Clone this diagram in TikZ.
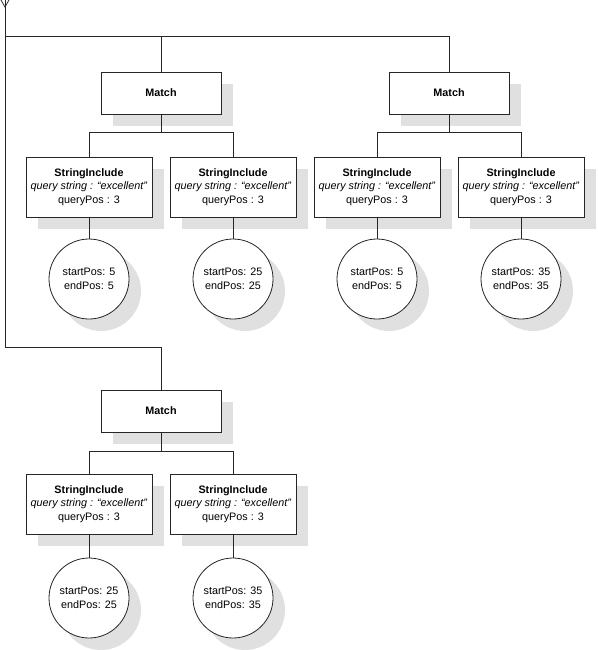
\documentclass[tikz,border=0pt]{standalone}
\usepackage{fontspec}
\setmainfont{Liberation Sans}
\usetikzlibrary{shadows}
\definecolor{shadowgray}{HTML}{E0E0E0}
\begin{document}
\begin{tikzpicture}[x=1pt,y=-1pt,
  line/.style={draw=black!85,line width=0.8pt},
  shadowed/.style={drop shadow={shadow xshift=12pt,shadow yshift=-12pt,fill=shadowgray,opacity=1}},
  matchbox/.style={line,fill=white,shadowed,rectangle,minimum width=120pt,minimum height=42pt,inner sep=0pt,font=\fontsize{10.8}{13.5}\selectfont\bfseries},
  incbox/.style={line,fill=white,shadowed,rectangle,minimum width=126pt,minimum height=60pt,inner sep=0pt,align=center,font=\fontsize{10.8}{13.5}\selectfont},
  posnode/.style={line,fill=white,shadowed,circle,minimum size=80pt,inner sep=0pt,align=center,font=\fontsize{10.8}{13.5}\selectfont},
  conn/.style={line}
]
\useasboundingbox (0,0) rectangle (597,650);

\newcommand{\incl}{\textbf{StringInclude}\\\textit{query string : “excellent”}\\queryPos : 3}

% root
\coordinate (root) at (5,0);
\coordinate (va) at (5,7);
\coordinate (vl) at (1,0);
\coordinate (vr) at (9,0);
\coordinate (jtop) at (5,36);
\coordinate (jbot) at (5,347);

% top-left tree
\node[matchbox] (m1) at (161,93) {Match};
\coordinate (j1) at (161,132);
\node[incbox] (b1) at (89,187) {\incl};
\node[incbox] (b2) at (233,187) {\incl};
\node[posnode] (c1) at (89,279) {startPos: 5\\endPos: 5};
\node[posnode] (c2) at (233,279) {startPos: 25\\endPos: 25};

% top-right tree
\node[matchbox] (m2) at (449,93) {Match};
\coordinate (j2) at (449,132);
\node[incbox] (b3) at (377,187) {\incl};
\node[incbox] (b4) at (521,187) {\incl};
\node[posnode] (c3) at (377,279) {startPos: 5\\endPos: 5};
\node[posnode] (c4) at (521,279) {startPos: 35\\endPos: 35};

% bottom tree
\node[matchbox] (m3) at (161,411) {Match};
\coordinate (j3) at (161,451);
\node[incbox] (b5) at (89,504) {\incl};
\node[incbox] (b6) at (233,504) {\incl};
\node[posnode] (c5) at (89,598) {startPos: 25\\endPos: 25};
\node[posnode] (c6) at (233,598) {startPos: 35\\endPos: 35};

% connectors
\draw[conn] (vl) -- (va) -- (vr);
\draw[conn] (root) -- (jbot) -| (m3);
\draw[conn] (jtop) -| (m1);
\draw[conn] (jtop) -| (m2);

\draw[conn] (m1) -- (j1);
\draw[conn] (j1) -| (b1);
\draw[conn] (j1) -| (b2);
\draw[conn] (b1) -- (c1);
\draw[conn] (b2) -- (c2);

\draw[conn] (m2) -- (j2);
\draw[conn] (j2) -| (b3);
\draw[conn] (j2) -| (b4);
\draw[conn] (b3) -- (c3);
\draw[conn] (b4) -- (c4);

\draw[conn] (m3) -- (j3);
\draw[conn] (j3) -| (b5);
\draw[conn] (j3) -| (b6);
\draw[conn] (b5) -- (c5);
\draw[conn] (b6) -- (c6);
\end{tikzpicture}
\end{document}
